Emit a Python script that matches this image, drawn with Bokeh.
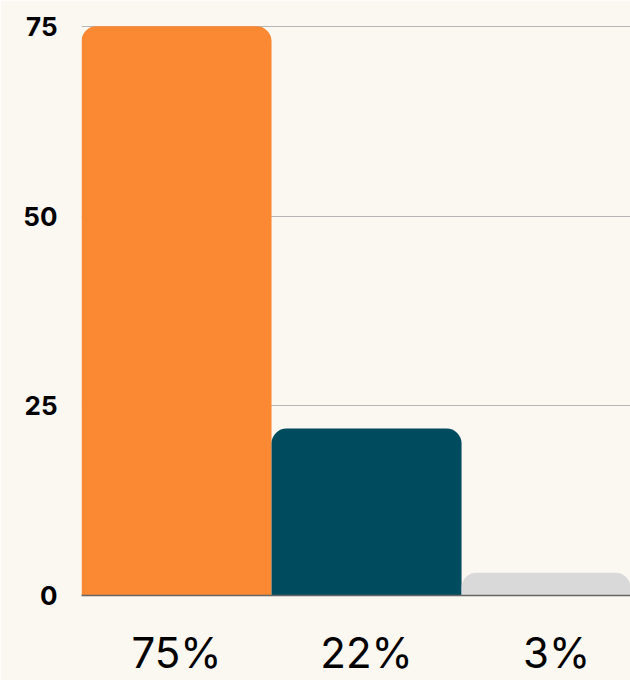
from bokeh.plotting import figure
from bokeh.models import Range1d, FixedTicker, ColumnDataSource
from bokeh.embed import file_html
from bokeh.resources import INLINE

categories = ["75%", "22%", "3%"]
values = [75, 22, 3]
colors = ["#FB8832", "#004C5F", "#D9D9D9"]
y_ticks = [0, 25, 50, 75]

xs = list(range(len(categories)))
src = ColumnDataSource(dict(x=xs, top=values, color=colors))

BG = "#FBF7F1"
p = figure(width=630, height=680, output_backend="svg", toolbar_location=None,
           x_range=Range1d(-0.5, 2.389), y_range=Range1d(0, 75.1),
           min_border_left=81, min_border_right=0, min_border_top=25, min_border_bottom=20,
           background_fill_color=BG, border_fill_color=BG)
p.outline_line_color = None

p.vbar(x="x", top="top", width=1.0, fill_color="color", line_color=None, source=src,
       border_radius=(15, 15, 0, 0))

p.xgrid.grid_line_color = None
p.ygrid.grid_line_color = "#B5B5B5"
p.ygrid.grid_line_width = 1
p.ygrid.ticker = FixedTicker(ticks=y_ticks)

p.yaxis.ticker = FixedTicker(ticks=y_ticks)
p.yaxis.axis_line_color = None
p.yaxis.major_tick_line_color = None
p.yaxis.minor_tick_line_color = None
p.yaxis.major_label_text_font = "Inter"
p.yaxis.major_label_text_font_style = "bold"
p.yaxis.major_label_text_font_size = "26px"
p.yaxis.major_label_text_color = "#000000"
p.yaxis.major_label_standoff = 18

p.xaxis.ticker = FixedTicker(ticks=xs)
p.xaxis.major_label_overrides = {i: c for i, c in zip(xs, categories)}
p.xaxis.axis_line_color = "#666666"
p.xaxis.axis_line_width = 1.5
p.xaxis.major_tick_line_color = None
p.xaxis.minor_tick_line_color = None
p.xaxis.major_label_text_font = "Inter"
p.xaxis.major_label_text_font_size = "42px"
p.xaxis.major_label_text_color = "#000000"
p.xaxis.major_label_standoff = 25

open("out.html", "w").write(file_html(p, INLINE))
